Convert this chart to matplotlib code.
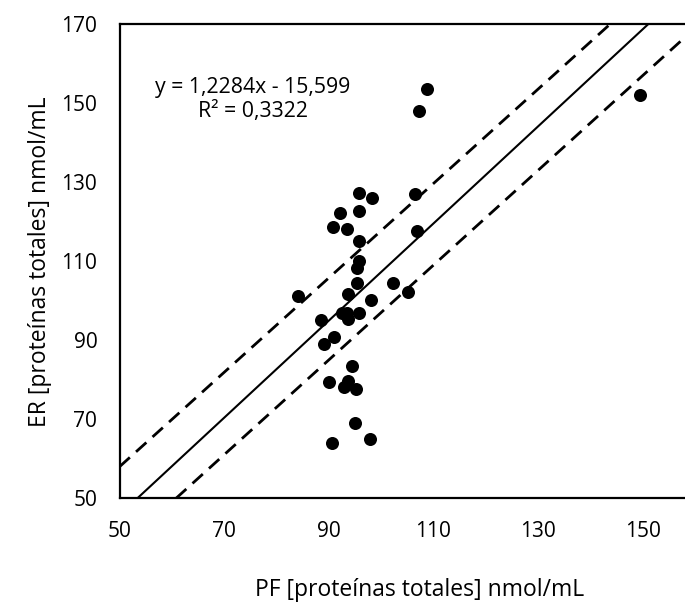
import matplotlib
matplotlib.use("Agg")
import matplotlib.pyplot as plt

# data
pf = [95.8, 98.3, 106.5, 92.2, 95.7, 90.8, 93.5, 106.8, 95.8, 95.8,
      95.3, 95.3, 102.2, 105.1, 84.2, 93.7, 98.1, 92.5, 93.4, 95.8,
      93.7, 88.6, 90.9, 89.0, 94.4, 90.1, 93.7, 92.9, 95.2, 95.0,
      90.6, 97.8, 108.7, 107.3, 149.5]
er = [127.3, 125.9, 126.9, 122.2, 122.8, 118.6, 118.1, 117.7, 115.1, 110.1,
      108.2, 104.4, 104.4, 102.1, 101.3, 101.6, 100.3, 96.8, 96.8, 96.8,
      95.4, 95.0, 90.9, 89.0, 83.5, 79.5, 79.7, 78.2, 77.6, 69.1,
      64.1, 65.1, 153.5, 148.1, 152.0]

# trend line and the two dashed lines (slope, intercept)
trend = (1.2284, -15.599)
upper = (1.194, -1.7)
lower = (1.199, -22.9)

eq_text = "y = 1,2284x - 15,599\nR² = 0,3322"
x_ticks = [50, 70, 90, 110, 130, 150]
y_ticks = [50, 70, 90, 110, 130, 150, 170]

plt.rcParams['font.family'] = ['Open Sans', 'DejaVu Sans']
plt.rcParams['font.size'] = 15

fig = plt.figure(figsize=(6.85, 6.03), dpi=100)
ax = fig.add_axes([0.1745, 0.1736, 1.0146 - 0.1745, 0.9602 - 0.1736])

ax.scatter(pf, er, s=88, color="black", zorder=3, linewidths=0)

ax.axline((0, trend[1]), slope=trend[0], color="black", lw=1.5)
for s, b in (upper, lower):
    ax.axline((0, b), slope=s, color="black", lw=2.0, dashes=(5, 3))

ax.set_xlim(50, 160)
ax.set_ylim(50, 170)
ax.set_xticks(x_ticks)
ax.set_yticks(y_ticks)
ax.tick_params(axis="both", length=0, colors="black", labelsize=15)
ax.tick_params(axis="y", pad=16)
ax.tick_params(axis="x", pad=16)
for sp in ax.spines.values():
    sp.set_linewidth(1.6)
    sp.set_color("black")

ax.text(75.5, 151.0, eq_text, ha="center", va="center", linespacing=1.2,
        fontsize=15.3)

fig.text(420 / 685, 1 - 590 / 603, "PF [proteínas totales] nmol/mL",
         ha="center", va="center", fontsize=16.5)
fig.text(40 / 685, 1 - 262 / 603, "ER [proteínas totales] nmol/mL",
         ha="center", va="center", rotation=90, fontsize=16.5)

fig.savefig("out.png", dpi=100)
